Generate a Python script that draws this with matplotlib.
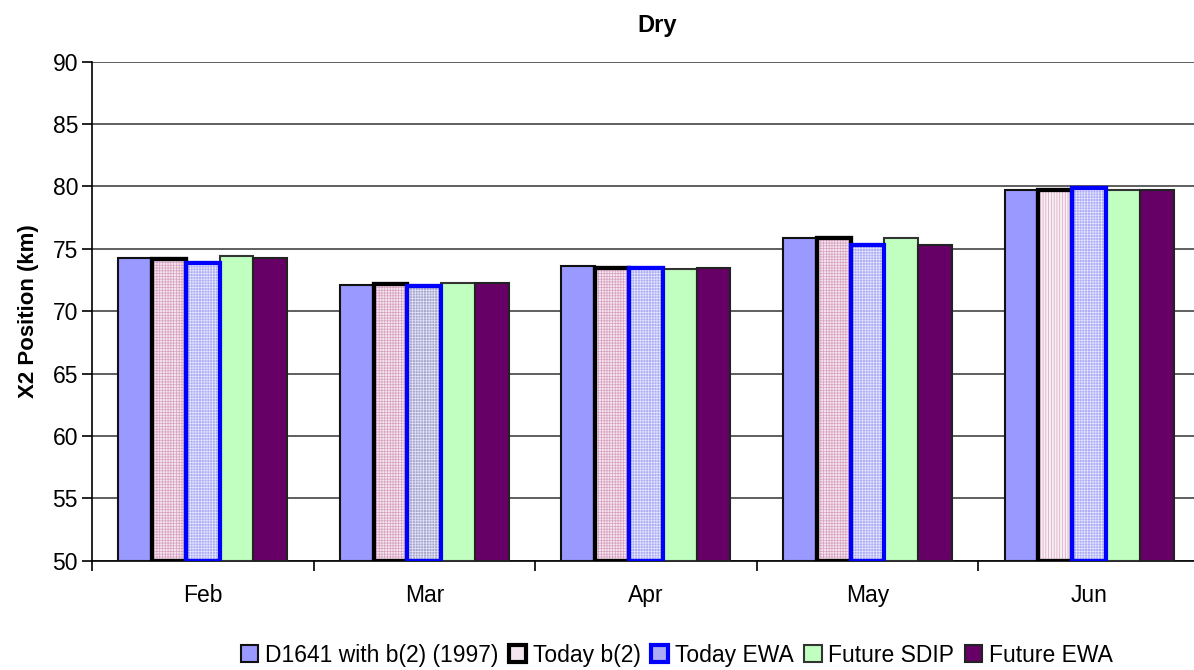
import numpy as np
import matplotlib
matplotlib.use("Agg")
import matplotlib.pyplot as plt

months = ["Feb", "Mar", "Apr", "May", "Jun"]
series_names = ["D1641 with b(2) (1997)", "Today b(2)", "Today EWA",
                "Future SDIP", "Future EWA"]

d1641 = [74.3, 72.1, 73.6, 75.9, 79.7]
today_b2 = [74.2, 72.2, 73.5, 75.9, 79.7]
today_ewa = [73.9, 72.0, 73.5, 75.3, 79.9]
future_sdip = [74.4, 72.3, 73.4, 75.9, 79.7]
future_ewa = [74.3, 72.3, 73.5, 75.3, 79.7]

plt.rcParams["font.family"] = ["Liberation Sans", "DejaVu Sans"]
plt.rcParams["hatch.linewidth"] = 0.5

fig = plt.figure(figsize=(11.94, 6.70), dpi=100)
# plot area runs past the right edge of the picture, as in the original
ax = fig.add_axes([0.077, 0.163, 0.928, 0.745])

x = np.arange(len(months))
width = 0.1525
styles = [
    dict(color="#9999FF", edgecolor="#111111", linewidth=1.5),
    dict(color="#F4E6EE", edgecolor="black", linewidth=3.0),
    dict(color="#ADADF5", edgecolor="#0000FF", linewidth=3.0),
    dict(color="#C0FFC0", edgecolor="#333333", linewidth=1.5),
    dict(color="#660066", edgecolor="#222222", linewidth=1.5),
]
data = [d1641, today_b2, today_ewa, future_sdip, future_ewa]
base = 50
for i, (vals, name, st) in enumerate(zip(data, series_names, styles)):
    pos = x + (i - 2) * width
    heights = np.array(vals) - base
    bars = ax.bar(pos, heights, width, bottom=base, label=name, zorder=3, **st)
    if i == 1:
        over = ax.bar(pos, heights, width, bottom=base, color="none",
                      edgecolor="#D8A0C0", hatch="++++++", linewidth=0,
                      zorder=3.5)
        # Jun bar uses vertical stripes instead of the check
        bars[-1].set_facecolor("#FAF0F4")
        over[-1].set_hatch("||||||")
        ax.bar(pos, heights, width, bottom=base, color="none",
               edgecolor="black", linewidth=3.0, zorder=3.6)
    if i == 2:
        # Mar bar is greyer than the others
        bars[1].set_facecolor("#A8A8C8")
        ax.bar(pos, heights, width, bottom=base, color="none",
               edgecolor="#E4E4FF", hatch="++++++", linewidth=0, zorder=3.5)
        ax.bar(pos, heights, width, bottom=base, color="none",
               edgecolor="#0000FF", linewidth=3.0, zorder=3.6)

ax.set_ylim(50, 90)
ax.set_xlim(-0.5, len(months) - 0.5)
ax.set_yticks(np.arange(50, 91, 5))
ax.yaxis.grid(True, color="#444444", linewidth=1.2, zorder=0)
ax.set_axisbelow(True)

ax.set_xticks(x)
ax.set_xticklabels(months)
ax.tick_params(axis="x", length=0, pad=17, labelsize=16.5)
ax.set_xticks(np.arange(-0.5, len(months), 1), minor=True)
ax.tick_params(axis="x", which="minor", length=7, direction="out", width=1.2)
ax.tick_params(axis="y", length=7, direction="out", labelsize=16.5,
               width=1.2, pad=3)

for side in ["top", "right"]:
    ax.spines[side].set_visible(False)
ax.spines["left"].set_linewidth(1.2)
ax.spines["bottom"].set_linewidth(1.2)

ax.set_ylabel("X2 Position (km)", fontsize=16, fontweight="bold", labelpad=10)
fig.text(0.55, 0.962, "Dry", ha="center", va="center",
         fontsize=17, fontweight="bold")

handles, labels = ax.get_legend_handles_labels()
fig.legend(handles, labels, loc="center", bbox_to_anchor=(0.567, 0.022),
           ncol=5, frameon=False, fontsize=16.5, handlelength=0.75,
           handleheight=0.75, handletextpad=0.3, columnspacing=0.45,
           borderaxespad=0)

fig.savefig("out.png", dpi=100)
